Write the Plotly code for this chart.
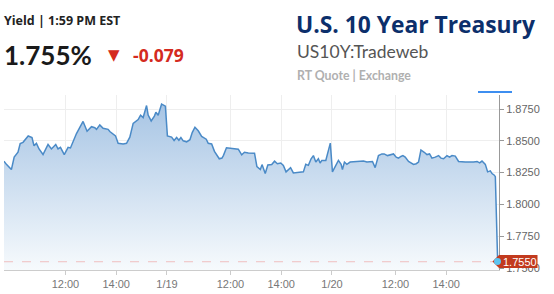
import plotly.graph_objects as go

# ---------------- data ----------------
# x: trading hours elapsed since 1/18 09:30 (each session 09:30-16:00 = 6.5 h)
t_hours = [0.079, 0.174, 0.371, 0.481, 0.631, 0.718, 0.828, 1.034, 1.183, 1.262,
           1.357, 1.460, 1.617, 1.815, 1.949, 2.118, 2.209, 2.304, 2.454, 2.604,
           2.698, 2.935, 3.195, 3.353, 3.527, 3.657, 3.724, 3.854, 3.984, 4.181,
           4.249, 4.379, 4.473, 4.576, 4.773, 4.907, 5.037, 5.168, 5.302, 5.365,
           5.460, 5.562, 5.696, 5.759, 5.878, 6.004, 6.063, 6.154, 6.288, 6.438,
           6.517, 6.682, 6.781, 6.880, 6.970, 7.049, 7.140, 7.274, 7.404, 7.495,
           7.602, 7.732, 7.866, 8.047, 8.126, 8.260, 8.371, 8.560, 8.667, 8.726,
           8.844, 9.049, 9.310, 9.444, 9.554, 9.704, 9.949, 10.043, 10.178, 10.245,
           10.371, 10.473, 10.627, 10.738, 10.848, 10.982, 11.085, 11.191, 11.270, 11.369,
           11.479, 11.613, 11.874, 11.968, 12.071, 12.178, 12.268, 12.363, 12.465, 12.532,
           12.600, 12.757, 12.935, 13.018, 13.152, 13.254, 13.361, 13.412, 13.491, 13.586,
           13.716, 14.241, 14.375, 14.596, 14.702, 14.832, 14.966, 15.057, 15.187, 15.321,
           15.424, 15.530, 15.621, 15.716, 15.795, 15.885, 16.016, 16.213, 16.319, 16.410,
           16.505, 16.635, 16.742, 16.844, 16.939, 17.069, 17.199, 17.294, 17.396, 17.531,
           17.633, 17.728, 17.858, 17.988, 18.252, 18.580, 18.714, 18.817, 18.911, 19.041,
           19.132, 19.239, 19.306, 19.396, 19.436, 19.527]
yield_pct = [1.8340, 1.8315, 1.8274, 1.8372, 1.8410, 1.8478, 1.8488, 1.8538, 1.8526, 1.8461,
             1.8480, 1.8436, 1.8392, 1.8471, 1.8436, 1.8471, 1.8436, 1.8449, 1.8392, 1.8449,
             1.8444, 1.8557, 1.8652, 1.8575, 1.8611, 1.8603, 1.8590, 1.8625, 1.8598, 1.8590,
             1.8573, 1.8557, 1.8539, 1.8480, 1.8475, 1.8480, 1.8529, 1.8637, 1.8654, 1.8667,
             1.8701, 1.8683, 1.8777, 1.8702, 1.8656, 1.8694, 1.8725, 1.8701, 1.8789, 1.8772,
             1.8539, 1.8529, 1.8503, 1.8526, 1.8505, 1.8526, 1.8500, 1.8492, 1.8509, 1.8565,
             1.8607, 1.8579, 1.8535, 1.8513, 1.8480, 1.8475, 1.8417, 1.8359, 1.8365, 1.8386,
             1.8445, 1.8440, 1.8434, 1.8390, 1.8410, 1.8404, 1.8403, 1.8297, 1.8274, 1.8313,
             1.8243, 1.8310, 1.8314, 1.8340, 1.8320, 1.8326, 1.8307, 1.8256, 1.8269, 1.8289,
             1.8248, 1.8251, 1.8256, 1.8315, 1.8307, 1.8359, 1.8384, 1.8333, 1.8359, 1.8326,
             1.8346, 1.8346, 1.8482, 1.8256, 1.8307, 1.8346, 1.8315, 1.8274, 1.8333, 1.8315,
             1.8333, 1.8341, 1.8333, 1.8338, 1.8289, 1.8384, 1.8397, 1.8397, 1.8384, 1.8392,
             1.8397, 1.8372, 1.8364, 1.8377, 1.8384, 1.8372, 1.8338, 1.8315, 1.8320, 1.8333,
             1.8428, 1.8410, 1.8392, 1.8397, 1.8364, 1.8372, 1.8384, 1.8364, 1.8359, 1.8384,
             1.8372, 1.8384, 1.8380, 1.8338, 1.8333, 1.8333, 1.8338, 1.8326, 1.8341, 1.8315,
             1.8256, 1.8264, 1.8243, 1.8230, 1.8218, 1.7550]

x_tick_pos = [2.5, 4.5, 6.5, 9.0, 11.0, 13.0, 15.5, 17.5]
x_tick_labels = ["12:00", "14:00", "1/19", "12:00", "14:00", "1/20", "12:00", "14:00"]
y_tick_vals = [1.75, 1.775, 1.80, 1.825, 1.85, 1.875]

last_value = 1.755
header_time = "Yield | 1:59 PM EST"
header_price = "1.755%"
header_change = "-0.079"
title = "U.S. 10 Year Treasury"
subtitle = "US10Y:Tradeweb"
source = "RT Quote | Exchange"

# ---------------- layout helpers ----------------
W, H = 554, 294
L, R, T, B = 4, 55, 95, 21
pw, ph = W - L - R, H - T - B


def px(xp):
    return (xp - L) / pw


def py(yp):
    return (H - B - yp) / ph


fig = go.Figure()
fig.add_trace(go.Scatter(
    x=t_hours, y=yield_pct, mode="lines",
    line=dict(color="#4a8ac7", width=1.5),
    fill="tozeroy",
    fillgradient=dict(type="vertical", start=1.7485, stop=1.886,
                      colorscale=[[0, "#f8fbfd"], [1, "#a3c2e3"]]),
    hoverinfo="skip", showlegend=False,
))

RED = "#c23a1e"
shapes = [
    dict(type="line", xref="paper", yref="y", x0=0, x1=1, y0=last_value, y1=last_value,
         line=dict(color="#f0c0c0", width=1, dash="dash"), layer="above"),
    dict(type="line", xref="paper", yref="paper", x0=px(478), x1=px(512), y0=py(92), y1=py(92),
         line=dict(color="#3d8ef0", width=2)),
    dict(type="path", xref="paper", yref="paper",
         path=(f"M {px(492.5)} {py(264.3)} L {px(499)} {py(257.7)} L {px(537.5)} {py(257.7)} "
               f"L {px(537.5)} {py(271)} L {px(499)} {py(271)} Z"),
         fillcolor=RED, line=dict(width=0), layer="above"),
    dict(type="circle", xref="paper", yref="paper",
         x0=px(494), x1=px(501), y0=py(260.8), y1=py(267.8),
         fillcolor="#5cc4f0", line=dict(width=0), layer="above"),
]

annotations = [
    dict(text="<b>" + header_time + "</b>", x=px(3), y=py(19), font=dict(size=12.5, color="#222", family="Open Sans")),
    dict(text="<b>" + header_price + "</b>", x=px(2.5), y=py(54), font=dict(size=26, color="#1a1a1a", family="Lato")),
    dict(text="▼", x=px(107), y=py(54), font=dict(size=15, color="#d42a20", family="DejaVu Sans")),
    dict(text="<b>" + header_change + "</b>", x=px(132), y=py(54.5), font=dict(size=17.5, color="#d42a20", family="Open Sans")),
    dict(text="<b>" + title + "</b>", x=px(295), y=py(23), font=dict(size=22.8, color="#0c2f6b", family="Open Sans")),
    dict(text=subtitle, x=px(296), y=py(50.5), font=dict(size=17.5, color="#555", family="Lato")),
    dict(text="<b>" + source + "</b>", x=px(296), y=py(75), font=dict(size=12.3, color="#b0b0b0", family="Lato")),
    dict(text="%.4f" % last_value, x=px(501.5), y=py(264.5), font=dict(size=11, color="white", family="Liberation Sans")),
]
for a in annotations:
    a.update(xref="paper", yref="paper", xanchor="left", yanchor="middle", showarrow=False, borderpad=0)

fig.update_layout(
    width=W, height=H,
    margin=dict(l=L, r=R, t=T, b=B, pad=0),
    paper_bgcolor="white", plot_bgcolor="white",
    shapes=shapes, annotations=annotations,
    xaxis=dict(range=[0.08, 19.58], tickvals=x_tick_pos, ticktext=x_tick_labels,
               showgrid=True, gridcolor="#eeeeee", gridwidth=1,
               showline=True, linecolor="#cccccc", linewidth=1,
               ticks="outside", ticklen=4, tickcolor="#cccccc",
               tickfont=dict(size=11, color="#777", family="Liberation Sans"),
               zeroline=False, fixedrange=True),
    yaxis=dict(range=[1.7485, 1.886], side="right", tickvals=y_tick_vals, tickformat=".4f",
               showgrid=True, gridcolor="#eeeeee", gridwidth=1,
               showline=True, linecolor="#999999", linewidth=1,
               ticks="outside", ticklen=4, tickcolor="#999999",
               tickfont=dict(size=11, color="#666", family="Liberation Sans"),
               zeroline=False, fixedrange=True),
)

fig.write_html("out.html")
